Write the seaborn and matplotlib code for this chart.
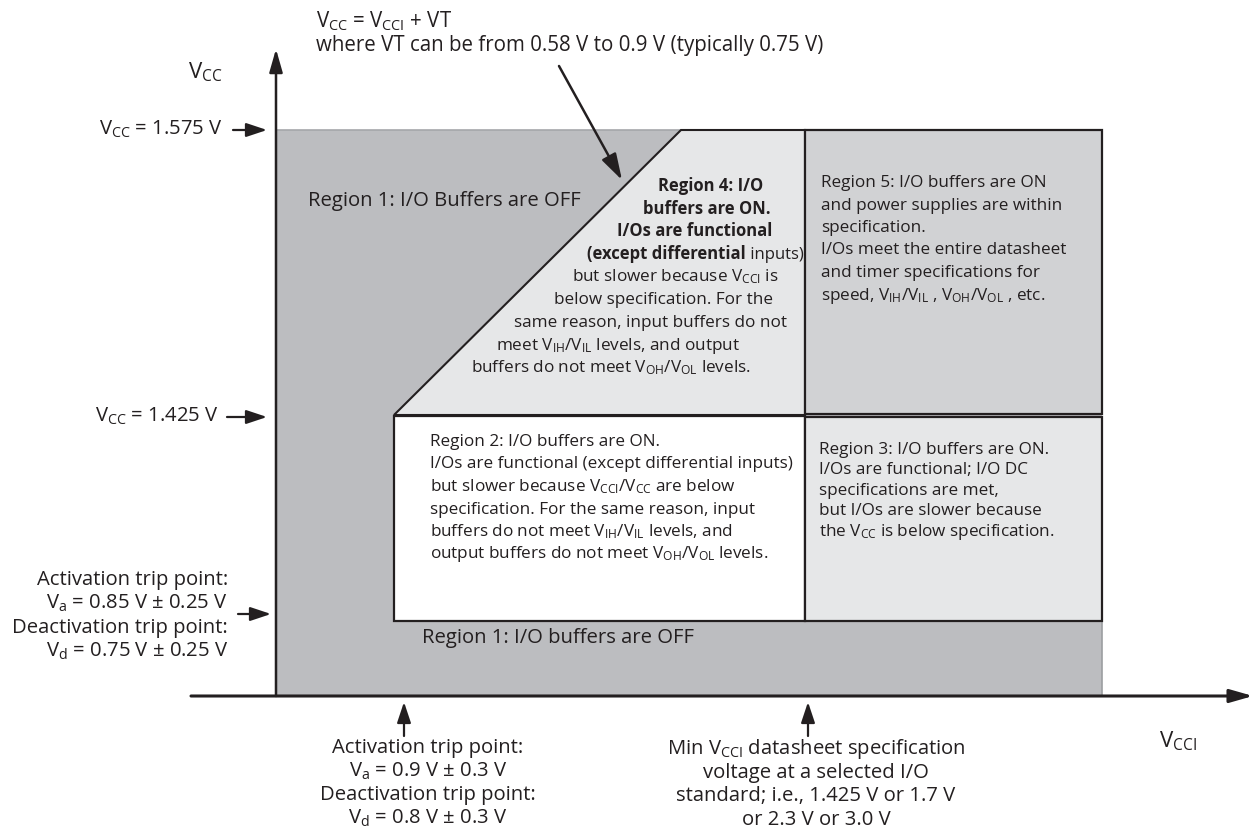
import matplotlib
matplotlib.use("Agg")
import matplotlib.pyplot as plt
import seaborn as sns
from matplotlib.patches import Polygon

sns.set_theme(style="white")
plt.rcParams["font.family"] = ["Open Sans", "DejaVu Sans"]
plt.rcParams["mathtext.fontset"] = "custom"
plt.rcParams["mathtext.rm"] = "Open Sans"
plt.rcParams["mathtext.it"] = "Open Sans:italic"
plt.rcParams["mathtext.bf"] = "Open Sans:bold"


def V(s):
    return r"V$_{\mathrm{%s}}$" % s


# ---------------- texts ----------------
formula_lines = [V("CC") + " = " + V("CCI") + " + VT",
                 "where VT can be from 0.58 V to 0.9 V (typically 0.75 V)"]
region1_top = "Region 1: I/O Buffers are OFF"
region1_bottom = "Region 1: I/O buffers are OFF"
region4_bold = ["Region 4: I/O", "buffers are ON.", "I/Os are functional"]
region4_mixed = ("(except differential", " inputs)")
region4_lines = ["but slower because " + V("CCI") + " is",
                 "below specification. For the",
                 "same reason, input buffers do not",
                 "meet " + V("IH") + "/" + V("IL") + " levels, and output",
                 "buffers do not meet " + V("OH") + "/" + V("OL") + " levels."]
region5_lines = ["Region 5: I/O buffers are ON",
                 "and power supplies are within",
                 "specification.",
                 "I/Os meet the entire datasheet",
                 "and timer specifications for",
                 "speed, " + V("IH") + "/" + V("IL") + " , " + V("OH") + "/" + V("OL") + " , etc."]
region2_lines = ["Region 2: I/O buffers are ON.",
                 "I/Os are functional (except differential inputs)",
                 "but slower because " + V("CCI") + "/" + V("CC") + " are below",
                 "specification. For the same reason, input",
                 "buffers do not meet " + V("IH") + "/" + V("IL") + " levels, and",
                 "output buffers do not meet " + V("OH") + "/" + V("OL") + " levels."]
region3_lines = ["Region 3: I/O buffers are ON.",
                 "I/Os are functional; I/O DC",
                 "specifications are met,",
                 "but I/Os are slower because",
                 "the " + V("CC") + " is below specification."]
left_labels = ["Activation trip point:",
               r"V$_{\mathrm{a}}$ = 0.85 V ± 0.25 V",
               "Deactivation trip point:",
               r"V$_{\mathrm{d}}$ = 0.75 V ± 0.25 V"]
bottom_left_labels = ["Activation trip point:",
                      r"V$_{\mathrm{a}}$ = 0.9 V ± 0.3 V",
                      "Deactivation trip point:",
                      r"V$_{\mathrm{d}}$ = 0.8 V ± 0.3 V"]
bottom_mid_labels = ["Min " + V("CCI") + " datasheet specification",
                     "voltage at a selected I/O",
                     "standard; i.e., 1.425 V or 1.7 V",
                     "or 2.3 V or 3.0 V"]
vcc_levels = [V("CC") + " = 1.575 V", V("CC") + " = 1.425 V"]
axis_labels = [V("CC"), V("CCI")]

# ---------------- colours ----------------
DARK = "#bcbdc0"
LIGHT = "#e6e7e8"
MID = "#d1d2d4"
INK = "#231f20"

fig = plt.figure(figsize=(12.54, 8.31), dpi=100)
ax = fig.add_axes([0, 0, 1, 1])
ax.set_xlim(0, 1254)
ax.set_ylim(831, 0)
ax.axis("off")

# Region shapes (diagram coordinates)
X0, X1, X2, X3 = 276, 394, 805, 1102
Y_TOP, Y_MID, Y_LOW, Y_AX = 130, 415, 621, 696
X_DIAG = 681

ax.add_patch(Polygon([(X0, Y_TOP), (X3, Y_TOP), (X3, Y_AX), (X0, Y_AX)],
                     closed=True, fc=DARK, ec="none", zorder=1))
ax.plot([X0, X_DIAG], [Y_TOP, Y_TOP], color="#a5a7aa", lw=1.2, zorder=2)
ax.plot([X3, X3], [Y_LOW, Y_AX], color="#9c9ea1", lw=1.2, zorder=2)

# Region 4 trapezoid
ax.add_patch(Polygon([(X1, Y_MID), (X_DIAG, Y_TOP), (X2, Y_TOP), (X2, Y_MID)],
                     closed=True, fc=LIGHT, ec=INK, lw=1.5, zorder=3,
                     joinstyle="miter"))
# Region 5
ax.add_patch(Polygon([(X2, Y_TOP), (X3, Y_TOP), (X3, Y_MID - 1), (X2, Y_MID - 1)],
                     closed=True, fc=MID, ec=INK, lw=1.6, zorder=3))
# Region 2
ax.add_patch(Polygon([(X1, Y_MID + 1), (X2, Y_MID + 1), (X2, Y_LOW), (X1, Y_LOW)],
                     closed=True, fc="white", ec=INK, lw=1.6, zorder=3))
# Region 3
ax.add_patch(Polygon([(X2, Y_MID + 2), (X3, Y_MID + 2), (X3, Y_LOW), (X2, Y_LOW)],
                     closed=True, fc=LIGHT, ec=INK, lw=1.6, zorder=3))


def arrow(x0, y0, x1, y1, lw=1.6, scale=20, hl=0.7, hw=0.22):
    ax.annotate("", xy=(x1, y1), xytext=(x0, y0),
                arrowprops=dict(arrowstyle="-|>,head_length=%s,head_width=%s" % (hl, hw),
                                color=INK, lw=lw, shrinkA=0, shrinkB=0,
                                mutation_scale=scale),
                zorder=6)


# axes
arrow(X0, Y_AX, X0, 49, lw=1.8, hw=0.2)
arrow(191, Y_AX, 1253, Y_AX, lw=2.2, hw=0.2)

# small pointer arrows
arrow(233, 130, 267, 130, lw=1.6, scale=14, hl=0.9, hw=0.3)
arrow(227, 417, 267, 417, lw=1.6, scale=14, hl=0.9, hw=0.3)
arrow(238, 614, 271, 614, lw=1.6, scale=14, hl=0.9, hw=0.3)
arrow(404, 736, 404, 702, lw=1.6, scale=14, hl=0.9, hw=0.3)
arrow(808, 736, 808, 702, lw=1.6, scale=14, hl=0.9, hw=0.3)
# formula pointer
arrow(559, 66, 622, 180, lw=1.8, scale=16, hl=1.0, hw=0.3)

FS_IN = 12.3
FS_OUT = 14.6


def kw(fs):
    return dict(color=INK, fontsize=fs, va="baseline", zorder=7)


def lines_at(lines, x, y0, dy, fs, ha="left", **extra):
    for i, s in enumerate(lines):
        ax.text(x, y0 + i * dy, s, ha=ha, **kw(fs), **extra)


# top formula
lines_at(formula_lines, 316, 27, 24.5, 14.8)
# axis labels
ax.text(205, 78, axis_labels[0], ha="center", **kw(16))
ax.text(1178, 747, axis_labels[1], ha="center", **kw(16))
# level labels
ax.text(223, 135, vcc_levels[0], ha="right", **kw(FS_OUT))
ax.text(219, 422, vcc_levels[1], ha="right", **kw(FS_OUT))

# Region 1 labels
ax.text(308, 206, region1_top, ha="left", **kw(FS_OUT))
ax.text(422, 643, region1_bottom, ha="left", **kw(FS_OUT))

# Region 4
r4_centers = [711, 707, 695]
for i, s in enumerate(region4_bold):
    ax.text(r4_centers[i], 191 + i * 22.7, s, ha="center", fontweight="bold", **kw(12))
t = ax.text(587, 191 + 3 * 22.7, region4_mixed[0], ha="left", fontweight="bold", **kw(12))
ax.annotate(region4_mixed[1], xy=(1, 0), xycoords=t, va="bottom", ha="left",
            color=INK, fontsize=12, zorder=7)
r4_reg_centers = [675, 663, 650, 618, 611]
for i, s in enumerate(region4_lines):
    ax.text(r4_reg_centers[i], 191 + (i + 4) * 22.7, s, ha="center", **kw(FS_IN))

# Region 5, 2, 3
lines_at(region5_lines, 821, 187, 22.5, FS_IN)
lines_at(region2_lines, 430, 446, 22.5, FS_IN)
lines_at(region3_lines, 819, 454, 20.4, FS_IN)

# left labels
lines_at(left_labels, 228, 585, 24, FS_OUT, ha="right")
# bottom labels
lines_at(bottom_left_labels, 428, 753, 23.6, FS_OUT, ha="center")
lines_at(bottom_mid_labels, 816, 754, 23.6, FS_OUT, ha="center")

fig.savefig("out.png", dpi=100)
